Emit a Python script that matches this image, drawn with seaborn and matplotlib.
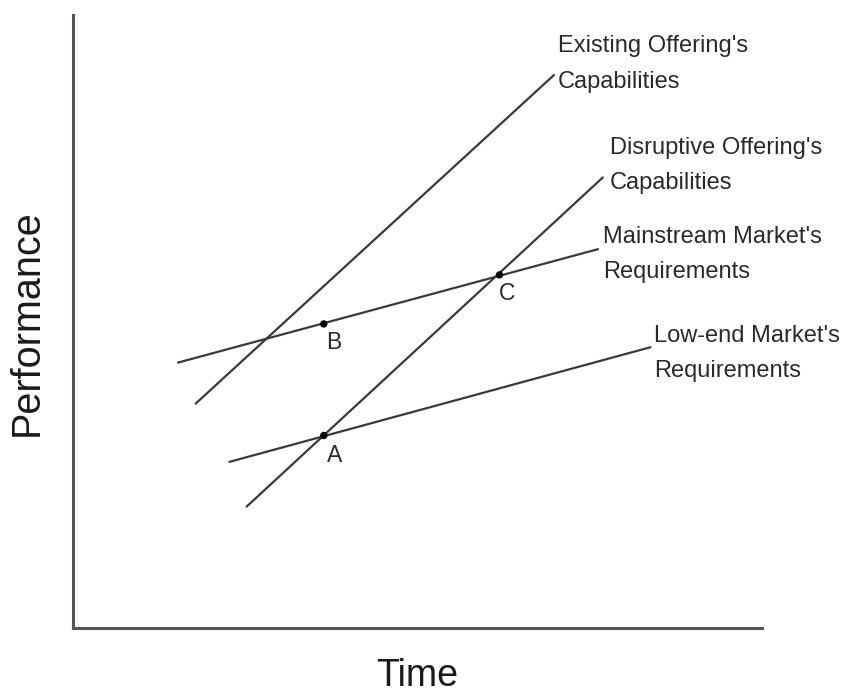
import matplotlib
matplotlib.use("Agg")
import matplotlib.pyplot as plt
import seaborn as sns
import pandas as pd

# ---- data (arbitrary units: Time 0-100, Performance 0-100) ----
series_names = ["Existing Offering's\nCapabilities",
                "Disruptive Offering's\nCapabilities",
                "Mainstream Market's\nRequirements",
                "Low-end Market's\nRequirements"]
start_x = [17.8, 25.2, 15.25, 22.7]
start_y = [36.6, 19.8, 43.3, 27.1]
end_x = [69.8, 76.9, 76.2, 83.8]
end_y = [90.2, 73.5, 61.8, 45.8]

label_x = [70.4, 77.9, 76.9, 84.3]
label_y = [92.0, 75.4, 60.9, 44.8]

point_names = ["B", "C", "A"]
point_x = [36.4, 61.9, 36.4]
point_y = [49.6, 57.6, 31.4]
point_label_x = [37.8, 63.0, 37.9]
point_label_y = [46.6, 54.5, 28.2]

# ---- figure ----
sns.set_theme(style="white")
plt.rcParams['font.family'] = ['Liberation Sans', 'DejaVu Sans']

fig = plt.figure(figsize=(8.46, 6.95), dpi=100)
ax = fig.add_axes([73/846, (695-628)/695, 689/846, 613/695])

rows = []
for n, x0, y0, x1, y1 in zip(series_names, start_x, start_y, end_x, end_y):
    rows.append({"series": n, "x": x0, "y": y0})
    rows.append({"series": n, "x": x1, "y": y1})
lines_df = pd.DataFrame(rows)

line_color = "#3a3a3a"
sns.lineplot(data=lines_df, x="x", y="y", units="series", estimator=None,
             color=line_color, linewidth=1.6, sort=False, ax=ax, legend=False)

pts_df = pd.DataFrame({"name": point_names, "x": point_x, "y": point_y})
sns.scatterplot(data=pts_df, x="x", y="y", color="black", s=28,
                edgecolor="none", ax=ax, legend=False, zorder=5)

for n, lx, ly in zip(series_names, label_x, label_y):
    ax.text(lx, ly, n, ha="left", va="center", fontsize=17,
            color="#2a2a2a", linespacing=1.78)

for n, lx, ly in zip(point_names, point_label_x, point_label_y):
    ax.text(lx, ly, n, ha="center", va="center", fontsize=16.5, color="#2a2a2a")

ax.set_xlim(0, 100)
ax.set_ylim(0, 100)
ax.set_xticks([])
ax.set_yticks([])
for side in ["top", "right"]:
    ax.spines[side].set_visible(False)
for side in ["left", "bottom"]:
    ax.spines[side].set_color("#555555")
    ax.spines[side].set_linewidth(2.2)

ax.set_xlabel("Time", fontsize=27, color="#1a1a1a")
ax.set_ylabel("Performance", fontsize=28.5, color="#1a1a1a")
ax.xaxis.set_label_coords(0.499, -0.078)
ax.xaxis.label.set_va("center")
ax.yaxis.set_label_coords(-0.067, 0.498)
ax.yaxis.label.set_va("center")

fig.savefig("out.png", dpi=100, facecolor="white")
